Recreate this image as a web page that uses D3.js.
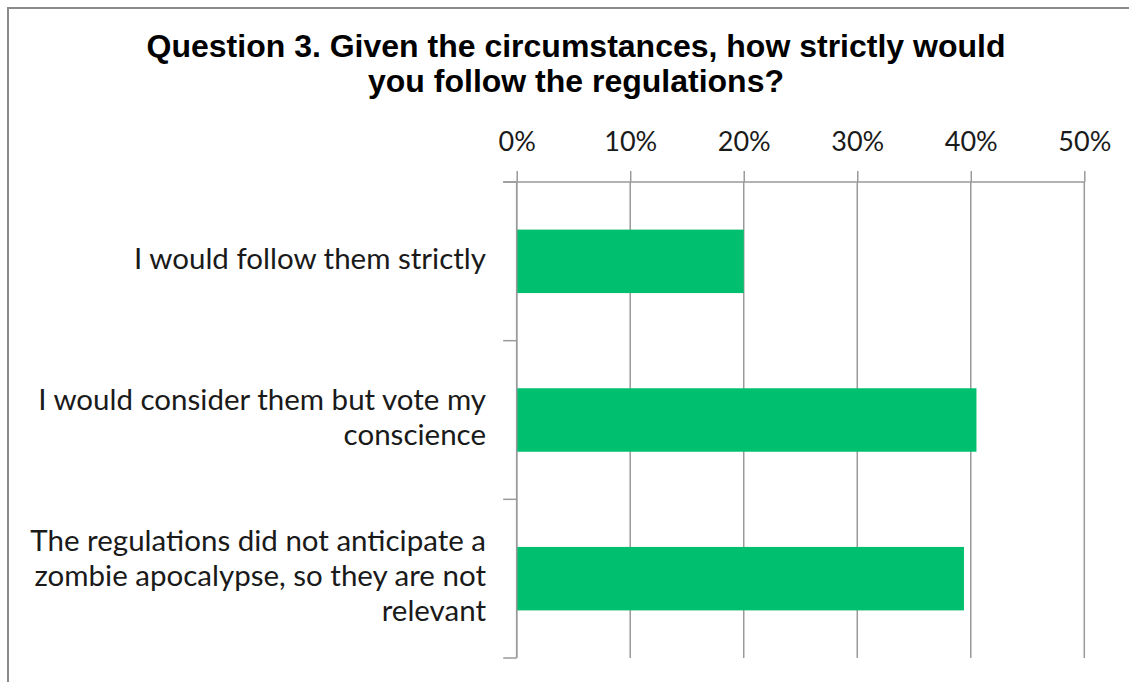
<!DOCTYPE html>
<html>
<head>
<meta charset="utf-8">
<script src="https://cdn.jsdelivr.net/npm/d3@7"></script>
<style>
  html, body { margin: 0; padding: 0; background: #fff; }
  svg { display: block; }
</style>
</head>
<body>
<svg id="chart" width="1129" height="682"></svg>
<script>
// Survey responses for Question 3
const titleLines = [
  "Question 3. Given the circumstances, how strictly would",
  "you follow the regulations?"
];
const categories = [
  "I would follow them strictly",
  "I would consider them but vote my conscience",
  "The regulations did not anticipate a zombie apocalypse, so they are not relevant"
];
const shares = [0.20, 0.405, 0.394];
const tickValues = [0, 0.1, 0.2, 0.3, 0.4, 0.5];

const W = 1129, H = 682;
const plot = { left: 516.7, right: 1084.3, top: 182, bottom: 658 };
const barColor = "#00BF6F";
const gridColor = "#9a9a9a";
const labelFont = "Lato, 'Open Sans', sans-serif";

const svg = d3.select("#chart");

// Chart frame
svg.append("rect")
  .attr("x", 8).attr("y", 8)
  .attr("width", W + 20).attr("height", H + 20)
  .attr("fill", "#fff")
  .attr("stroke", "#8a8a8a")
  .attr("stroke-width", 2);

// Title
const title = svg.append("text")
  .attr("text-anchor", "middle")
  .attr("font-family", "'Liberation Sans', Arial, sans-serif")
  .attr("font-weight", "bold")
  .attr("font-size", 32)
  .attr("fill", "#000");
title.selectAll("tspan").data(titleLines).join("tspan")
  .attr("x", 576)
  .attr("y", (d, i) => 57 + i * 35)
  .text(d => d);

const x = d3.scaleLinear().domain([0, 0.5]).range([plot.left, plot.right]);
const y = d3.scaleBand().domain(categories)
  .range([plot.top, plot.bottom])
  .paddingInner(0.6).paddingOuter(0.3);

// Vertical gridlines
svg.append("g").selectAll("line").data(tickValues).join("line")
  .attr("x1", d => x(d)).attr("x2", d => x(d))
  .attr("y1", plot.top).attr("y2", plot.bottom)
  .attr("stroke", gridColor).attr("stroke-width", 1.5);

// Bars
svg.append("g").selectAll("rect").data(categories).join("rect")
  .attr("x", x(0))
  .attr("y", d => y(d))
  .attr("width", (d, i) => x(shares[i]) - x(0))
  .attr("height", y.bandwidth())
  .attr("fill", barColor);

// Top value axis
const xAxis = d3.axisTop(x)
  .tickValues(tickValues)
  .tickFormat(d3.format(".0%"))
  .tickSize(11)
  .tickPadding(20);
const gx = svg.append("g")
  .attr("transform", `translate(0,${plot.top})`)
  .call(xAxis);
gx.select(".domain").remove();
gx.selectAll(".tick line").attr("stroke", gridColor).attr("stroke-width", 1.5);
gx.selectAll(".tick text")
  .attr("font-family", labelFont)
  .attr("font-size", 27)
  .attr("fill", "#1a1a1a");
gx.append("line")
  .attr("x1", plot.left - 13.5).attr("x2", plot.right)
  .attr("y1", 0).attr("y2", 0)
  .attr("stroke", gridColor).attr("stroke-width", 1.5);

// Category axis
const gy = svg.append("g");
gy.append("line")
  .attr("x1", plot.left).attr("x2", plot.left)
  .attr("y1", plot.top).attr("y2", plot.bottom)
  .attr("stroke", gridColor).attr("stroke-width", 1.5);
const step = y.step();
const boundaries = d3.range(categories.length + 1).map(i => plot.top + i * step);
gy.selectAll("line.cat-tick").data(boundaries).join("line")
  .attr("class", "cat-tick")
  .attr("x1", plot.left - 13.5).attr("x2", plot.left)
  .attr("y1", d => d).attr("y2", d => d)
  .attr("stroke", gridColor).attr("stroke-width", 1.5);

// Wrapped category labels
const labelSize = 29.5;
const lineHeight = 35;
const wrapWidth = 475;
const measurer = svg.append("text")
  .attr("font-family", labelFont).attr("font-size", labelSize)
  .attr("visibility", "hidden");
function wrap(str) {
  const words = str.split(" ");
  const lines = [];
  let cur = "";
  words.forEach(w => {
    const trial = cur ? cur + " " + w : w;
    measurer.text(trial);
    if (cur && measurer.node().getComputedTextLength() > wrapWidth) {
      lines.push(cur);
      cur = w;
    } else {
      cur = trial;
    }
  });
  if (cur) lines.push(cur);
  return lines;
}
categories.forEach(c => {
  const lines = wrap(c);
  const cy = y(c) + y.bandwidth() / 2;
  const t = svg.append("text")
    .attr("text-anchor", "end")
    .attr("font-family", labelFont)
    .attr("font-size", labelSize)
    .attr("fill", "#1a1a1a");
  t.selectAll("tspan").data(lines).join("tspan")
    .attr("x", 486)
    .attr("y", (d, i) => cy + (i - (lines.length - 1) / 2) * lineHeight)
    .attr("dy", "0.25em")
    .text(d => d);
});
measurer.remove();
</script>
</body>
</html>
